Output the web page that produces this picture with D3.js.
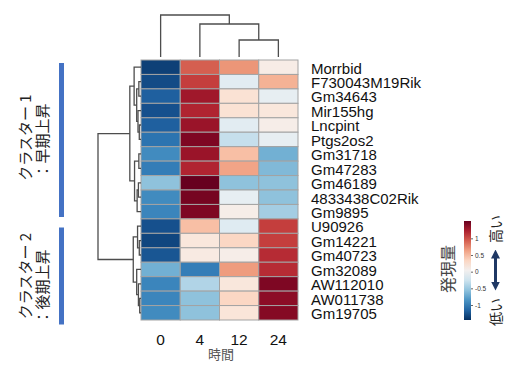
<!DOCTYPE html>
<html>
<head>
<meta charset="utf-8">
<script src="https://d3js.org/d3.v7.min.js"></script>
<style>
  body { margin: 0; background: #fff; }
  text { font-family: "Liberation Sans", Arial, sans-serif; }
  .jp { font-family: "Noto Sans CJK JP", sans-serif; }
</style>
</head>
<body>
<svg width="520" height="372"></svg>
<script>
// genes in plotted (clustered) order
var genes = ["Morrbid", "F730043M19Rik", "Gm34643", "Mir155hg", "Lncpint", "Ptgs2os2",
  "Gm31718", "Gm47283", "Gm46189", "4833438C02Rik", "Gm9895",
  "U90926", "Gm14221", "Gm40723", "Gm32089", "AW112010", "AW011738", "Gm19705"];
var times = ["0", "4", "12", "24"];

// scaled expression per time point (one value per gene)
var h0  = [-1.36, -1.30, -1.18, -1.27, -1.18, -1.06, -0.91, -1.00, -0.56, -0.91, -0.95,
           -1.27, -1.33, -1.24, -0.68, -0.95, -0.95, -0.91];
var h4  = [0.93, 1.07, 1.28, 1.20, 1.31, 1.43, 1.31, 1.20, 1.52, 1.46, 1.43,
           0.48, 0.19, 0.15, -1.00, -0.41, -0.56, -0.56];
var h12 = [0.69, -0.12, 0.24, 0.24, -0.12, -0.30, 0.48, 0.62, -0.56, -0.08, 0.10,
           -0.14, 0.33, 0.10, 0.66, 0.19, 0.33, 0.21];
var h24 = [0.12, 0.55, -0.08, 0.19, 0.10, -0.08, -0.68, -0.62, -0.56, -0.56, -0.47,
           1.07, 1.07, 1.16, 1.16, 1.43, 1.37, 1.40];

// linkage: [childA, childB, height]; leaves are 0..n-1, new nodes follow
var rowLinks = [[4,5,0.4],[3,18,0.7],[1,2,0.5],[20,19,1.0],[0,21,1.6],
  [6,7,0.5],[8,9,0.6],[24,10,0.9],[23,25,1.5],[22,26,2.6],
  [12,13,0.4],[11,28,0.8],[16,17,0.3],[15,30,0.6],[14,31,1.0],[29,32,1.8],
  [27,33,10]];
var colLinks = [[2,3,4.05],[1,4,7.86],[0,5,10]];

var clusters = [
  { name: "クラスター 1", desc: "：早期上昇", rows: [0, 10] },
  { name: "クラスター 2", desc: "：後期上昇", rows: [11, 17] }
];
var legendTicks = [1, 0.5, 0, -0.5, -1];
var vmin = -1.45, vmax = 1.52;

var svg = d3.select("svg");
var columns = [h0, h4, h12, h24];

var x = d3.scaleBand().domain(times).range([141, 298]);
var y = d3.scaleBand().domain(genes).range([60, 320]);
var color = d3.scaleSequential(function(t) { return d3.interpolateRdBu(1 - t); })
  .domain([vmin, vmax]);

// heatmap cells
var cells = [];
columns.forEach(function(col, j) {
  col.forEach(function(v, i) { cells.push({ gene: genes[i], time: times[j], v: v }); });
});
svg.append("g").selectAll("rect").data(cells).enter().append("rect")
  .attr("x", function(d) { return x(d.time); })
  .attr("y", function(d) { return y(d.gene); })
  .attr("width", x.bandwidth())
  .attr("height", y.bandwidth())
  .attr("fill", function(d) { return color(d.v); })
  .attr("stroke", "#a3a3a3")
  .attr("stroke-width", 1);

// dendrograms
function drawDendro(links, leafPos, hScale, vertical) {
  var n = links.length + 1;
  var pos = leafPos.slice(), hgt = leafPos.map(function() { return 0; });
  var g = svg.append("g").attr("fill", "none").attr("stroke", "#4d4d4d").attr("stroke-width", 1.3);
  links.forEach(function(l, k) {
    var a = l[0], b = l[1], h = l[2];
    var p = (pos[a] + pos[b]) / 2;
    var path;
    if (vertical) {
      path = "M" + hScale(hgt[a]) + "," + pos[a] + "H" + hScale(h) + "V" + pos[b] + "H" + hScale(hgt[b]);
    } else {
      path = "M" + pos[a] + "," + hScale(hgt[a]) + "V" + hScale(h) + "H" + pos[b] + "V" + hScale(hgt[b]);
    }
    g.append("path").attr("d", path);
    pos[n + k] = p; hgt[n + k] = h;
  });
}
var rowH = d3.scaleLinear().domain([0, 10]).range([141, 98]);
drawDendro(rowLinks, genes.map(function(g) { return y(g) + y.bandwidth() / 2; }), rowH, true);
var colH = d3.scaleLinear().domain([0, 10]).range([57, 15]);
drawDendro(colLinks, times.map(function(t) { return x(t) + x.bandwidth() / 2; }), colH, false);

// row labels
svg.append("g").selectAll("text").data(genes).enter().append("text")
  .attr("x", 311)
  .attr("y", function(d) { return y(d) + y.bandwidth() / 2 + 6.3; })
  .attr("font-size", 15)
  .attr("fill", "#111")
  .text(function(d) { return d; });

// column labels
svg.append("g").selectAll("text").data(times).enter().append("text")
  .attr("x", function(d) { return x(d) + x.bandwidth() / 2; })
  .attr("y", 345)
  .attr("text-anchor", "middle")
  .attr("font-size", 15.5)
  .attr("fill", "#111")
  .text(function(d) { return d; });
svg.append("text").attr("class", "jp")
  .attr("x", 221).attr("y", 359)
  .attr("text-anchor", "middle")
  .attr("font-size", 13)
  .attr("fill", "#555")
  .text("時間");

// cluster bars and labels
var barTops = [63, 227.5], barBottoms = [217, 324.5];
var nameCenters = [137.5, 276], descCenters = [141, 287];
clusters.forEach(function(c, i) {
  svg.append("rect")
    .attr("x", 59).attr("y", barTops[i])
    .attr("width", 5).attr("height", barBottoms[i] - barTops[i])
    .attr("fill", "#4472c4");
  svg.append("text").attr("class", "jp")
    .attr("transform", "translate(24," + nameCenters[i] + ") rotate(-90)")
    .attr("text-anchor", "middle").attr("dominant-baseline", "central")
    .attr("font-size", 15).attr("fill", "#222")
    .text(c.name);
  svg.append("text").attr("class", "jp")
    .attr("transform", "translate(41.5," + descCenters[i] + ") rotate(-90)")
    .attr("text-anchor", "middle").attr("dominant-baseline", "central")
    .attr("font-size", 15).attr("fill", "#222")
    .text(c.desc);
});

// colour bar
var cb = d3.scaleLinear().domain([vmin, vmax]).range([320, 221]);
var defs = svg.append("defs");
var grad = defs.append("linearGradient").attr("id", "cbar")
  .attr("x1", 0).attr("y1", 1).attr("x2", 0).attr("y2", 0);
d3.range(0, 1.0001, 0.1).forEach(function(t) {
  grad.append("stop").attr("offset", t)
    .attr("stop-color", color(vmin + t * (vmax - vmin)));
});
svg.append("rect")
  .attr("x", 464).attr("y", 221).attr("width", 7).attr("height", 99)
  .attr("fill", "url(#cbar)");
var cbAxis = svg.append("g").attr("transform", "translate(471,0)")
  .call(d3.axisRight(cb).tickValues(legendTicks).tickSize(2).tickPadding(2)
    .tickFormat(function(d) { return d === 0 ? "0" : String(d); }));
cbAxis.select(".domain").remove();
cbAxis.selectAll("text").attr("font-size", 6.5).attr("fill", "#333")
  .attr("font-family", "Liberation Sans, Arial, sans-serif");
cbAxis.selectAll("line").attr("stroke", "#666");

svg.append("text").attr("class", "jp")
  .attr("transform", "translate(447,269) rotate(-90)")
  .attr("text-anchor", "middle").attr("dominant-baseline", "central")
  .attr("font-size", 16).attr("fill", "#444")
  .text("発現量");
svg.append("text").attr("class", "jp")
  .attr("transform", "translate(495,229) rotate(-90)")
  .attr("text-anchor", "middle").attr("dominant-baseline", "central")
  .attr("font-size", 14).attr("fill", "#222")
  .text("高い");
svg.append("text").attr("class", "jp")
  .attr("transform", "translate(495,312) rotate(-90)")
  .attr("text-anchor", "middle").attr("dominant-baseline", "central")
  .attr("font-size", 14).attr("fill", "#222")
  .text("低い");

// double-headed arrow
var arrowColor = "#1f3864";
defs.append("marker").attr("id", "ah").attr("viewBox", "0 0 10 10")
  .attr("refX", 5).attr("refY", 5).attr("markerWidth", 3).attr("markerHeight", 3)
  .attr("orient", "auto-start-reverse")
  .append("path").attr("d", "M0,0L10,5L0,10z").attr("fill", arrowColor);
svg.append("line")
  .attr("x1", 495.5).attr("x2", 495.5).attr("y1", 254).attr("y2", 286)
  .attr("stroke", arrowColor).attr("stroke-width", 3)
  .attr("marker-start", "url(#ah)").attr("marker-end", "url(#ah)");
</script>
</body>
</html>
